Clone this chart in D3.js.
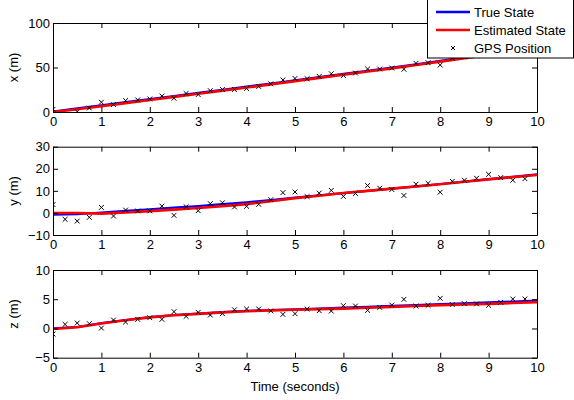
<!DOCTYPE html>
<html>
<head>
<meta charset="utf-8">
<script src="https://cdn.jsdelivr.net/npm/d3@7"></script>
<style>
  body { margin: 0; background: #fff; }
  svg { display: block; font-family: "Liberation Sans", Arial, Helvetica, sans-serif; }
  .axis text { font-size: 13px; fill: #000; }
  .axis path, .axis line { stroke: #000; }
</style>
</head>
<body>
<div id="chart"></div>
<script>
// sample times of the GPS fixes (s)
const GPS_T = [0,0.25,0.5,0.75,1,1.25,1.5,1.75,2,2.25,2.5,2.75,3,3.25,3.5,3.75,4,4.25,4.5,4.75,
               5,5.25,5.5,5.75,6,6.25,6.5,6.75,7,7.25,7.5,7.75,8,8.25,8.5,8.75,9,9.25,9.5,9.75];
// GPS positions
const GPS_X = [3,-4,0.5,4.5,11,8.3,12.8,13.6,14.7,18,15.5,20.8,19.6,24,25.3,25.3,26.4,28.7,31.7,36,
               37.7,37.4,40,43,41,43.8,48.3,48.3,49.4,48,54.7,55.4,52.8,60.6,62,63,65,66,69,70];
const GPS_Y = [3.8,-2.9,-3.7,-2,2.5,-1.4,1.3,0.9,0.9,3.1,-1.1,2.8,1,4.2,4.6,2.7,3,3.9,6,9.2,
               9.5,7.4,9,10.2,7.5,8.8,12.4,11.2,10.6,7.9,13,13.4,9.4,14.3,14.8,15.7,17.5,16,14.8,15.5];
const GPS_Z = [-0.95,0.7,0.93,0.82,0.07,1.44,1.1,1.56,1.84,1.56,2.87,2.07,2.76,2.3,2.53,3.2,3.33,3.33,3,2.41,
               2.53,3.33,3.04,2.98,3.9,3.84,3.1,3.6,4.0,4.98,3.84,3.96,5.16,4.1,4.24,4.2,3.96,4.47,5.04,5.04];

// true and estimated trajectories, read at half-second steps
const LINE_T = [0,0.5,1,1.5,2,2.5,3,3.5,4,4.5,5,5.5,6,6.5,7,7.5,8,8.5,9,9.5,10];
const TRUE_X = [0.5,4,7.5,11,14.5,18,21.5,25,28.5,32,35.7,39.2,42.8,46.3,49.8,53.6,57.4,61.1,64.8,68.4,72];
const EST_X  = [0,3,6.5,10,13.5,17,20.5,24,27.5,31,34.7,38.3,42,45.5,49,52.8,56.6,60.3,64,67.5,71];
const TRUE_Y = [-0.8,-0.6,0.2,0.9,1.6,2.4,3.1,4,4.8,5.8,6.9,8,9,10,11,12,13.1,14.2,15.3,16.4,17.5];
const EST_Y  = [0,0,-0.3,0.2,0.8,1.5,2.2,3.1,4,5.3,6.7,7.8,9,10,11,12,13,14.1,15.2,16.2,17.2];
const TRUE_Z = [0,0.25,0.9,1.45,1.95,2.3,2.55,2.8,3.0,3.15,3.25,3.4,3.55,3.7,3.85,4.0,4.15,4.3,4.45,4.6,4.75];
const EST_Z  = [-0.1,0.2,0.85,1.4,1.9,2.25,2.5,2.75,2.95,3.1,3.2,3.3,3.4,3.55,3.7,3.85,4.0,4.1,4.2,4.35,4.5];

const X_TICKS = [0,1,2,3,4,5,6,7,8,9,10];
const PANELS = [
  { label: 'x (m)', domain: [0,100], ticks: [0,50,100], gps: GPS_X, truth: TRUE_X, est: EST_X, top: 23, bot: 112 },
  { label: 'y (m)', domain: [-10,30], ticks: [-10,0,10,20,30], gps: GPS_Y, truth: TRUE_Y, est: EST_Y, top: 146.7, bot: 235 },
  { label: 'z (m)', domain: [-5,10], ticks: [-5,0,5,10], gps: GPS_Z, truth: TRUE_Z, est: EST_Z, top: 270, bot: 357.7 },
];

const W = 574, H = 400, L = 53, R = 537;
const svg = d3.select('#chart').append('svg').attr('width', W).attr('height', H);
const x = d3.scaleLinear().domain([0, 10]).range([L, R]);
const fmt = d => d < 0 ? '\u2212' + Math.abs(d) : String(d);

PANELS.forEach(p => {
  const y = d3.scaleLinear().domain(p.domain).range([p.bot, p.top]);
  const g = svg.append('g');
  g.append('rect').attr('x', L).attr('y', p.top).attr('width', R - L).attr('height', p.bot - p.top).attr('fill', '#fff');

  const clip = 'clip' + p.label[0];
  g.append('clipPath').attr('id', clip).append('rect')
    .attr('x', L).attr('y', p.top).attr('width', R - L).attr('height', p.bot - p.top);
  const plot = g.append('g').attr('clip-path', `url(#${clip})`);

  const line = vals => d3.line().x((d, i) => x(LINE_T[i])).y(d => y(d))(vals);
  plot.append('path').attr('d', line(p.truth)).attr('fill', 'none').attr('stroke', '#0000ff').attr('stroke-width', 2.2);
  plot.append('path').attr('d', line(p.est)).attr('fill', 'none').attr('stroke', '#ff0000').attr('stroke-width', 2.6);

  const s = 2.4;
  plot.selectAll('path.gps').data(p.gps).join('path').attr('class', 'gps')
    .attr('d', (d, i) => {
      const cx = x(GPS_T[i]), cy = y(d);
      return `M${cx-s},${cy-s}L${cx+s},${cy+s}M${cx-s},${cy+s}L${cx+s},${cy-s}`;
    })
    .attr('stroke', '#000').attr('stroke-width', 1).attr('fill', 'none');

  // MATLAB-style box with inward ticks on all sides
  g.append('g').attr('class', 'axis').attr('transform', `translate(0,${p.bot})`)
    .call(d3.axisBottom(x).tickValues(X_TICKS).tickFormat(d3.format('d')).tickSizeInner(-5).tickSizeOuter(0).tickPadding(5));
  g.append('g').attr('class', 'axis').attr('transform', `translate(0,${p.top})`)
    .call(d3.axisTop(x).tickValues(X_TICKS).tickFormat('').tickSizeInner(-5).tickSizeOuter(0));
  g.append('g').attr('class', 'axis').attr('transform', `translate(${L},0)`)
    .call(d3.axisLeft(y).tickValues(p.ticks).tickFormat(fmt).tickSizeInner(-5).tickSizeOuter(0).tickPadding(3));
  g.append('g').attr('class', 'axis').attr('transform', `translate(${R},0)`)
    .call(d3.axisRight(y).tickValues(p.ticks).tickFormat('').tickSizeInner(-5).tickSizeOuter(0));

  g.append('text').attr('transform', `translate(18,${(p.top + p.bot) / 2}) rotate(-90)`)
    .attr('text-anchor', 'middle').attr('font-size', 13).text(p.label);
});

svg.append('text').attr('x', (L + R) / 2).attr('y', 391).attr('text-anchor', 'middle')
  .attr('font-size', 13).text('Time (seconds)');

// legend
const LEG = [
  { name: 'True State', type: 'line', color: '#0000ff' },
  { name: 'Estimated State', type: 'line', color: '#ff0000' },
  { name: 'GPS Position', type: 'mark', color: '#000' },
];
const lg = svg.append('g');
lg.append('rect').attr('x', 427.5).attr('y', -1).attr('width', 146).attr('height', 59)
  .attr('fill', '#fff').attr('stroke', '#000').attr('stroke-width', 1);
LEG.forEach((d, i) => {
  const cy = 12 + i * 18;
  if (d.type === 'line') {
    lg.append('line').attr('x1', 436).attr('x2', 470).attr('y1', cy).attr('y2', cy)
      .attr('stroke', d.color).attr('stroke-width', 2.4);
  } else {
    const s = 2;
    lg.append('path').attr('d', `M${453-s},${cy-s}L${453+s},${cy+s}M${453-s},${cy+s}L${453+s},${cy-s}`)
      .attr('stroke', '#000').attr('stroke-width', 1);
  }
  lg.append('text').attr('x', 474).attr('y', cy + 4.5).attr('font-size', 13).text(d.name);
});
</script>
</body>
</html>
